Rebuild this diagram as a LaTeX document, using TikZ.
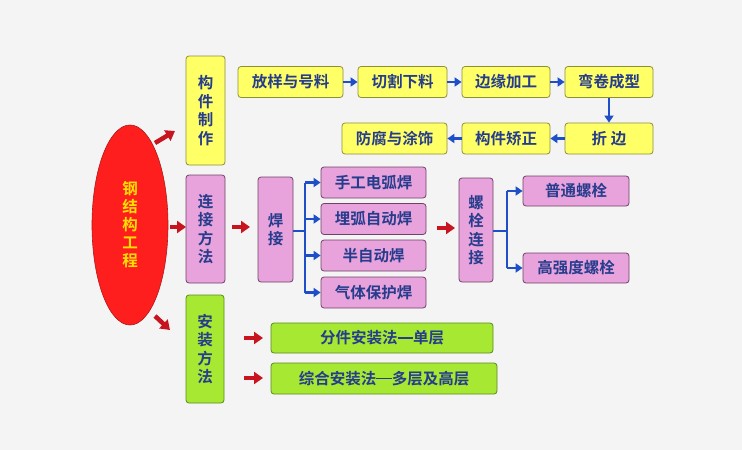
\documentclass[tikz,border=0pt]{standalone}
\usepackage{fontspec}
\setmainfont{Noto Sans CJK SC}[BoldFont={Noto Sans CJK SC Bold}]
\usetikzlibrary{arrows.meta,shapes.geometric}
\definecolor{bgc}{HTML}{F4F4F4}
\definecolor{yel}{HTML}{FFFF66}
\definecolor{yelb}{HTML}{8E8E3A}
\definecolor{pnk}{HTML}{E8A3DC}
\definecolor{pnkb}{HTML}{6E4466}
\definecolor{grn}{HTML}{A6E832}
\definecolor{grnb}{HTML}{5A8A1E}
\definecolor{txt}{HTML}{263C8C}
\definecolor{blu}{HTML}{1F4FC8}
\definecolor{redf}{HTML}{FF1E1E}
\definecolor{redb}{HTML}{B01818}
\definecolor{reda}{HTML}{C8141E}
\definecolor{gold}{HTML}{FFE000}
\newcommand{\emdash}{\makebox[1em]{\rule[0.33em]{1em}{1.6pt}}}
\tikzset{
  box/.style={rectangle,rounded corners=3pt,line width=0.8pt,inner sep=0pt,
    text=txt,font=\bfseries\fontsize{15.5}{15.5}\selectfont,align=center},
  ybox/.style={box,fill=yel,draw=yelb},
  pbox/.style={box,fill=pnk,draw=pnkb},
  gbox/.style={box,fill=grn,draw=grnb},
  vtext/.style={font=\bfseries\fontsize{15.5}{18.5}\selectfont},
  barr/.style={draw=blu,line width=2.4pt,-{Triangle[length=7pt,width=9pt]}},
  bline/.style={draw=blu,line width=2.4pt},
  rarr/.style={draw=reda,line width=4.5pt,-{Triangle[length=9pt,width=12pt]}},
}
\begin{document}
\begin{tikzpicture}[x=1pt,y=-1pt]
\useasboundingbox[fill=bgc] (0,0) rectangle (742,450);
% main ellipse
\node[ellipse,fill=redf,draw=redb,line width=0.6pt,minimum width=76pt,minimum height=200pt,
  inner sep=0pt,text=gold,align=center,font=\bfseries\fontsize{15.5}{18}\selectfont] (main) at (130,225)
  {钢\\结\\构\\工\\程};
% columns
\node[ybox,vtext,minimum width=39pt,minimum height=109pt] (c1) at (205.5,110.5) {构\\件\\制\\作};
\node[pbox,vtext,minimum width=39pt,minimum height=108pt] (c2) at (205.5,229) {连\\接\\方\\法};
\node[gbox,vtext,minimum width=38pt,minimum height=108pt] (c3) at (205,349) {安\\装\\方\\法};
% top row
\node[ybox,minimum width=105pt,minimum height=31pt] (a1) at (290.5,82) {放样与号料};
\node[ybox,minimum width=89pt,minimum height=31pt] (a2) at (402.5,82) {切割下料};
\node[ybox,minimum width=88pt,minimum height=31pt] (a3) at (506,82) {边缘加工};
\node[ybox,minimum width=88pt,minimum height=31pt] (a4) at (609,82) {弯卷成型};
\node[ybox,minimum width=88pt,minimum height=31pt] (b1) at (609,138.5) {折\ 边};
\node[ybox,minimum width=88pt,minimum height=31pt] (b2) at (506,138.5) {构件矫正};
\node[ybox,minimum width=105pt,minimum height=31pt] (b3) at (394.5,138.5) {防腐与涂饰};
\draw[barr] (a1.east) -- (a2.west);
\draw[barr] (a2.east) -- (a3.west);
\draw[barr] (a3.east) -- (a4.west);
\draw[barr] (a4.south) -- (b1.north);
\draw[barr] (b1.west) -- (b2.east);
\draw[barr] (b2.west) -- (b3.east);
% welding
\node[pbox,vtext,minimum width=35pt,minimum height=105pt] (w) at (275.5,229.5) {焊\\接};
\node[pbox,minimum width=105pt,minimum height=31pt] (w1) at (373.5,182.5) {手工电弧焊};
\node[pbox,minimum width=105pt,minimum height=31pt] (w2) at (373.5,219) {埋弧自动焊};
\node[pbox,minimum width=105pt,minimum height=31pt] (w3) at (373.5,255.5) {半自动焊};
\node[pbox,minimum width=105pt,minimum height=31pt] (w4) at (373.5,292.5) {气体保护焊};
\coordinate (wj) at (305,231);
\draw[bline] (w.east |- wj) -- (wj);
\draw[bline] (wj |- w1) -- (wj |- w4);
\draw[barr] (wj |- w1) -- (w1.west);
\draw[barr] (wj |- w2) -- (w2.west);
\draw[barr] (wj |- w3) -- (w3.west);
\draw[barr] (wj |- w4) -- (w4.west);
% bolts
\node[pbox,vtext,minimum width=34pt,minimum height=104pt] (bt) at (476,230) {螺\\栓\\连\\接};
\node[pbox,minimum width=106pt,minimum height=30pt] (bt1) at (576,191) {普通螺栓};
\node[pbox,minimum width=106pt,minimum height=30pt] (bt2) at (576,268) {高强度螺栓};
\coordinate (bj) at (507,231);
\draw[bline] (bt.east |- bj) -- (bj);
\draw[bline] (bj |- bt1) -- (bj |- bt2);
\draw[barr] (bj |- bt1) -- (bt1.west);
\draw[barr] (bj |- bt2) -- (bt2.west);
% install
\node[gbox,minimum width=222pt,minimum height=30pt] (g1) at (382,338) {分件安装法\emdash 单层};
\node[gbox,minimum width=226pt,minimum height=31pt] (g2) at (384,378.5) {综合安装法\emdash 多层及高层};
% red arrows
\coordinate (r1s) at (155,143); \coordinate (r1e) at (175,131);
\coordinate (r2s) at (170,227); \coordinate (r2e) at (186,227);
\coordinate (r3s) at (155,316); \coordinate (r3e) at (170,330);
\coordinate (r4s) at (232,227); \coordinate (r4e) at (250,227);
\coordinate (r5s) at (437,228); \coordinate (r5e) at (455,228);
\coordinate (r6s) at (244,338); \coordinate (r6e) at (263,338);
\coordinate (r7s) at (244,378); \coordinate (r7e) at (263,378);
\foreach \i in {1,...,7} { \draw[rarr] (r\i s) -- (r\i e); }
\end{tikzpicture}
\end{document}
